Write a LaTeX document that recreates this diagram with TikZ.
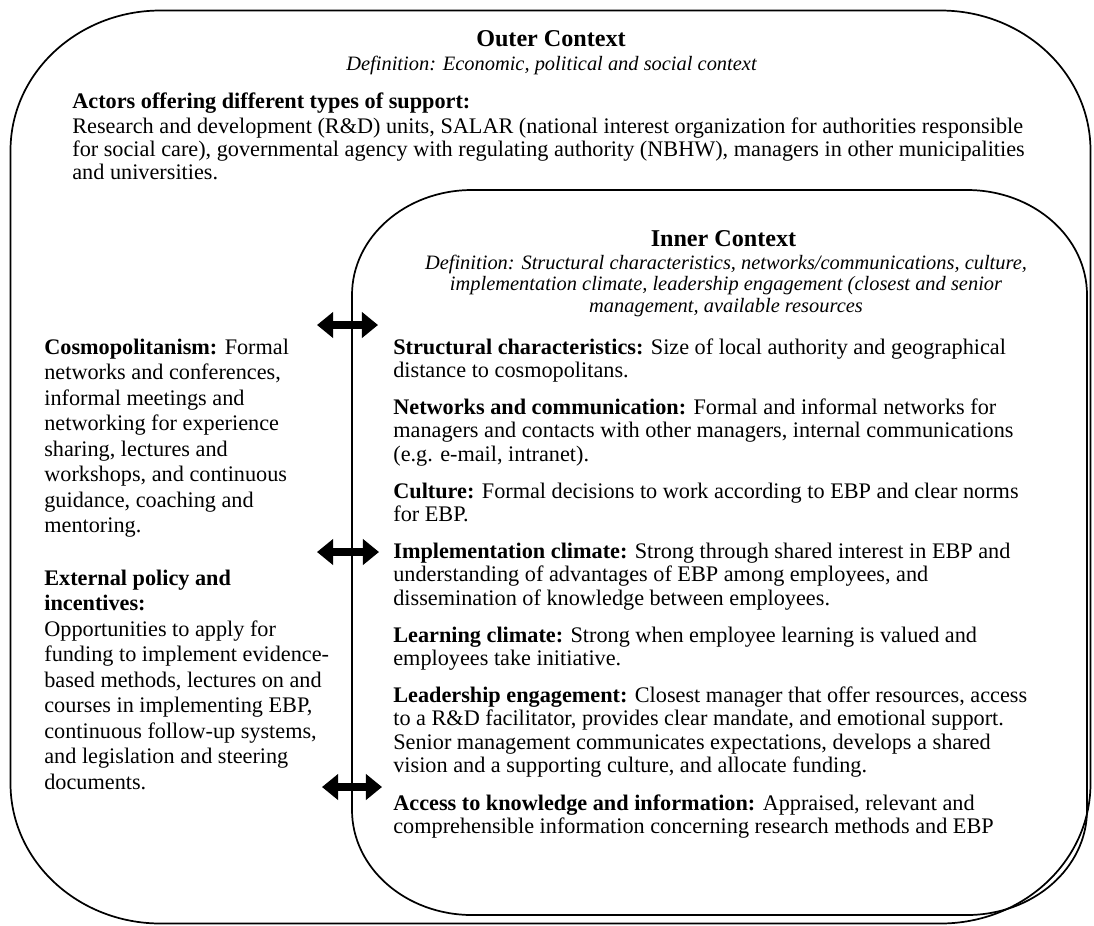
\documentclass[tikz,border=0pt]{standalone}
\usepackage{fontspec}
\setmainfont{Liberation Serif}
\usetikzlibrary{arrows.meta}
\newcommand{\mylines}[1]{\begin{tabular}[t]{@{}l@{}}#1\end{tabular}}
\newcommand{\mycentre}[1]{\begin{tabular}[t]{@{}c@{}}#1\end{tabular}}
\tikzset{
  boxline/.style={line width=1pt, line join=round},
  body/.style={font=\fontsize{12.9}{13.63}\selectfont, inner sep=0pt, anchor=base west},
  topbody/.style={font=\fontsize{12.9}{13.34}\selectfont, inner sep=0pt, anchor=base west},
  leftcol/.style={font=\fontsize{12.9}{14.8}\selectfont, inner sep=0pt, anchor=base west},
  deftext/.style={font=\fontsize{11.85}{12.5}\selectfont\itshape, inner sep=0pt, anchor=base},
  titletext/.style={font=\fontsize{14}{16}\selectfont\bfseries, inner sep=0pt, anchor=base},
  bigarrow/.style={line width=5.2pt, {Triangle[length=9.3pt,width=14.5pt]}-{Triangle[length=9.3pt,width=14.5pt]}}
}
\begin{document}
\begin{tikzpicture}[x=0.58pt,y=-0.58pt]
\useasboundingbox (0,0) rectangle (1094,925);
% outer context box
\draw[boxline] (10.5,150.5) .. controls (10.5,73.2) and (77.7,10.5) .. (160.5,10.5)
  -- (940.5,10.5) .. controls (1023.3,10.5) and (1090.5,73.2) .. (1090.5,150.5)
  -- (1090.5,783.5) .. controls (1090.5,860.8) and (1023.3,923.5) .. (940.5,923.5)
  -- (160.5,923.5) .. controls (77.7,923.5) and (10.5,860.8) .. (10.5,783.5) -- cycle;
% inner context box
\draw[boxline] (352,295) .. controls (352,237) and (405.7,190) .. (472,190)
  -- (967,190) .. controls (1033.3,190) and (1087,237) .. (1087,295)
  -- (1087,810) .. controls (1087,868) and (1033.3,915) .. (967,915)
  -- (472,915) .. controls (405.7,915) and (352,868) .. (352,810) -- cycle;

% outer context texts
\node[titletext] (outertitle) at (551,46) {Outer Context};
\node[deftext] (outerdef) at (551.5,70) {Definition: Economic, political and social context};
\node[body] (actorshead) at (72,108) {\textbf{Actors offering different types of support:}};
\node[topbody] (actors) at (72,133) {\mylines{Research and development (R\&D) units, SALAR (national interest organization for authorities responsible\\
for social care), governmental agency with regulating authority (NBHW), managers in other municipalities\\
and universities.}};

% inner context texts
\node[titletext] (innertitle) at (723.5,246) {Inner Context};
\node[deftext] (innerdef) at (726,269) {\mycentre{Definition: Structural characteristics, networks/communications, culture,\\
implementation climate, leadership engagement (closest and senior\\
management, available resources}};

\node[body] (structural) at (393,354) {\mylines{\textbf{Structural characteristics:} Size of local authority and geographical\\
distance to cosmopolitans.}};
\node[body] (networks) at (393,414) {\mylines{\textbf{Networks and communication:} Formal and informal networks for\\
managers and contacts with other managers, internal communications\\
(e.g. e-mail, intranet).}};
\node[body] (culture) at (393,498) {\mylines{\textbf{Culture:} Formal decisions to work according to EBP and clear norms\\
for EBP.}};
\node[body] (implementation) at (393,558) {\mylines{\textbf{Implementation climate:} Strong through shared interest in EBP and\\
understanding of advantages of EBP among employees, and\\
dissemination of knowledge between employees.}};
\node[body] (learning) at (393,642) {\mylines{\textbf{Learning climate:} Strong when employee learning is valued and\\
employees take initiative.}};
\node[body] (leadership) at (393,702) {\mylines{\textbf{Leadership engagement:} Closest manager that offer resources, access\\
to a R\&D facilitator, provides clear mandate, and emotional support.\\
Senior management communicates expectations, develops a shared\\
vision and a supporting culture, and allocate funding.}};
\node[body] (access) at (393,810) {\mylines{\textbf{Access to knowledge and information:} Appraised, relevant and\\
comprehensible information concerning research methods and EBP}};

% left column
\node[leftcol] (cosmo) at (44,354) {\mylines{\textbf{Cosmopolitanism:} Formal\\
networks and conferences,\\
informal meetings and\\
networking for experience\\
sharing, lectures and\\
workshops, and continuous\\
guidance, coaching and\\
mentoring.}};
\node[leftcol] (policy) at (44,585) {\mylines{\textbf{External policy and}\\
\textbf{incentives:}\\
Opportunities to apply for\\
funding to implement evidence-\\
based methods, lectures on and\\
courses in implementing EBP,\\
continuous follow-up systems,\\
and legislation and steering\\
documents.}};

% double-headed arrows across the inner boundary
\coordinate (a1l) at (317,325);
\coordinate (a1r) at (378,325);
\coordinate (a2l) at (317,552);
\coordinate (a2r) at (379,552);
\coordinate (a3l) at (322,787);
\coordinate (a3r) at (382,787);
\draw[bigarrow] (a1l) -- (a1r);
\draw[bigarrow] (a2l) -- (a2r);
\draw[bigarrow] (a3l) -- (a3r);
\end{tikzpicture}
\end{document}
